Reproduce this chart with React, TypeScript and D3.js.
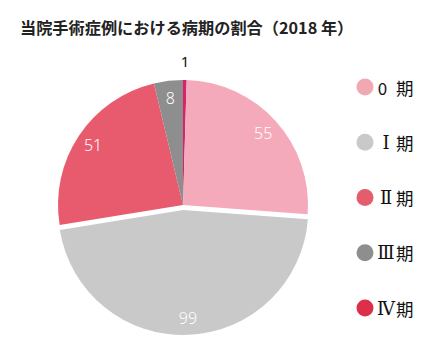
import React from "react";
import * as d3 from "d3";

const categories = ["Ⅳ期", "0 期", "Ⅰ 期", "Ⅱ 期", "Ⅲ期"];
const values = [1, 55, 99, 51, 8];
const sliceColors = ["#d6246a", "#f4aabb", "#c9c9c9", "#e85b6e", "#8e8e8e"];
const legendNumerals = ["0", "Ⅰ", "Ⅱ", "Ⅲ", "Ⅳ"];
const legendSuffix = "期";
const legendColors = ["#f2a8b2", "#c9c9c9", "#e35d6d", "#8e8e8e", "#dc2f4a"];
const explode = [0, 0, 5, 0, 0];
const title = "当院手術症例における病期の割合（2018 年）";

export default function App() {
  const W = 440, H = 355;
  const cx = 183, cy = 205, r = 125;
  const pie = d3.pie<number>().sort(null).value((d) => d).startAngle(0).endAngle(2 * Math.PI);
  const arcs = pie(values);
  const arc = d3.arc<d3.PieArcDatum<number>>().innerRadius(0).outerRadius(r);
  const labelArc = d3.arc<d3.PieArcDatum<number>>().innerRadius(108).outerRadius(108);
  const outerArc = d3.arc<d3.PieArcDatum<number>>().innerRadius(144).outerRadius(144);
  const legendY = d3.scalePoint<string>().domain(legendNumerals).range([87, 308]);
  const font = "'Noto Sans CJK JP', 'Noto Sans', sans-serif";

  return (
    <svg width={W} height={H} style={{ position: "absolute", left: 0, top: 0, background: "#fff" }}>
      <rect width={W} height={H} fill="#fff" />
      <text x={20} y={34} fontFamily={font} fontWeight={700} fontSize={16.2} fill="#222">{title}</text>
      <g transform={`translate(${cx},${cy})`}>
        {arcs.map((a, i) => {
          const mid = (a.startAngle + a.endAngle) / 2;
          const dx = Math.sin(mid) * explode[i];
          const dy = -Math.cos(mid) * explode[i];
          const small = values[i] < 3;
          const [lx, ly] = small ? outerArc.centroid(a) : labelArc.centroid(a);
          return (
            <g key={categories[i]} transform={`translate(${dx},${dy})`}>
              <path d={arc(a) || ""} fill={sliceColors[i]} />
              <text x={lx} y={ly} textAnchor="middle" dominantBaseline="central"
                fontFamily="'Noto Sans', sans-serif" fontWeight={small ? 400 : 300}
                fontSize={small ? 15 : 16} fill={small ? "#111" : "#fff"}>{values[i]}</text>
            </g>
          );
        })}
      </g>
      {legendNumerals.map((n, i) => (
        <g key={n} transform={`translate(365,${legendY(n)})`}>
          <circle r={8.5} fill={legendColors[i]} />
          <text x={i === 0 ? 17.5 : 21} y={0} dominantBaseline="central" textAnchor="middle"
            fontFamily={i === 0 ? font : "'DejaVu Serif', 'Liberation Serif', serif"}
            fontWeight={400}
            fontSize={i === 0 ? 17 : 18} fill="#111">{n}</text>
          <text x={31} y={0} dominantBaseline="central" fontFamily={font} fontSize={17.5} fill="#111">{legendSuffix}</text>
        </g>
      ))}
    </svg>
  );
}
